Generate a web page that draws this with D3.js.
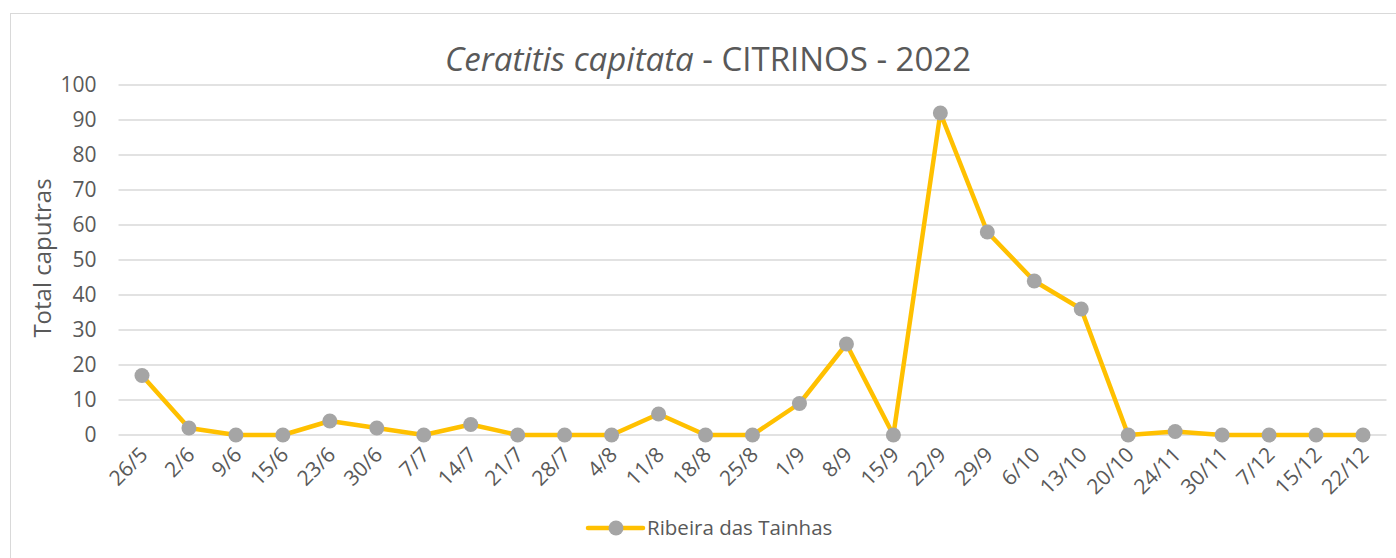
<!DOCTYPE html>
<html>
<head>
<meta charset="utf-8">
<script src="https://cdn.jsdelivr.net/npm/d3@7"></script>
<style>
  html, body { margin: 0; padding: 0; background: #fff; }
  svg { display: block; }
  text { font-family: "Open Sans", "Lato", sans-serif; fill: #595959; }
</style>
</head>
<body>
<svg id="chart" width="1396" height="558"></svg>
<script>
const categories = ["26/5","2/6","9/6","15/6","23/6","30/6","7/7","14/7","21/7","28/7","4/8","11/8","18/8","25/8","1/9","8/9","15/9","22/9","29/9","6/10","13/10","20/10","24/11","30/11","7/12","15/12","22/12"];
const values = [17,2,0,0,4,2,0,3,0,0,0,6,0,0,9,26,0,92,58,44,36,0,1,0,0,0,0];
const yTicks = [0,10,20,30,40,50,60,70,80,90,100];
const seriesName = "Ribeira das Tainhas";
const titleItalic = "Ceratitis capitata";
const titleRest = " - CITRINOS - 2022";
const yLabel = "Total caputras";

(function () {
const svg = d3.select("#chart");
const W = 1396, H = 558;

// chart border
svg.append("rect").attr("x", 10.5).attr("y", 13.5).attr("width", W).attr("height", H)
  .attr("fill", "#fff").attr("stroke", "#d9d9d9").attr("stroke-width", 1);

const pLeft = 118.5, pRight = 1386.5, pTop = 85, pBottom = 435;
const x = d3.scaleBand().domain(categories).range([pLeft, pRight]);
const y = d3.scaleLinear().domain([0, 100]).range([pBottom, pTop]);

// gridlines
svg.append("g").selectAll("line").data(yTicks).join("line")
  .attr("x1", pLeft).attr("x2", pRight)
  .attr("y1", d => y(d)).attr("y2", d => y(d))
  .attr("stroke", "#d9d9d9").attr("stroke-width", 1.3);

// y axis
const yAxis = svg.append("g").attr("transform", `translate(${pLeft},0)`)
  .call(d3.axisLeft(y).tickValues(yTicks).tickSize(0).tickPadding(22));
yAxis.select(".domain").remove();
yAxis.selectAll("text").style("font-size", "21px").attr("fill", "#595959")
  .style("font-family", "'Open Sans', sans-serif");

// x axis
const xAxis = svg.append("g").attr("transform", `translate(0,${pBottom})`)
  .call(d3.axisBottom(x).tickSize(0).tickPadding(0));
xAxis.select(".domain").remove();
xAxis.selectAll("text")
  .style("font-size", "21px").attr("fill", "#595959")
  .style("font-family", "'Open Sans', sans-serif")
  .attr("text-anchor", "end")
  .attr("dy", null).attr("y", 0)
  .attr("transform", "translate(7,21) rotate(-45)");

// y label
svg.append("text")
  .attr("transform", `translate(51,258) rotate(-90)`)
  .attr("text-anchor", "middle")
  .style("font-size", "24px")
  .text(yLabel);

// title
const t = svg.append("text").attr("x", 708).attr("y", 71).attr("text-anchor", "middle")
  .style("font-size", "33px");
t.append("tspan").style("font-style", "italic").text(titleItalic);
t.append("tspan").text(titleRest);

// line
const cx = d => x(d) + x.bandwidth() / 2;
const line = d3.line().x((d, i) => cx(categories[i])).y(d => y(d));
svg.append("path").datum(values)
  .attr("d", line).attr("fill", "none")
  .attr("stroke", "#FFC000").attr("stroke-width", 4.5)
  .attr("stroke-linejoin", "round");

svg.append("g").selectAll("circle").data(values).join("circle")
  .attr("cx", (d, i) => cx(categories[i])).attr("cy", d => y(d))
  .attr("r", 7.5).attr("fill", "#A5A5A5");

// legend
const lg = svg.append("g").attr("transform", "translate(588,528)");
lg.append("line").attr("x1", 0).attr("x2", 55).attr("y1", 0).attr("y2", 0)
  .attr("stroke", "#FFC000").attr("stroke-width", 4.5).attr("stroke-linecap", "round");
lg.append("circle").attr("cx", 28).attr("cy", 0).attr("r", 7.5).attr("fill", "#A5A5A5");
lg.append("text").attr("x", 59).attr("y", 0).attr("dy", "0.35em")
  .style("font-size", "20.5px").text(seriesName);
})();
</script>
</body>
</html>
